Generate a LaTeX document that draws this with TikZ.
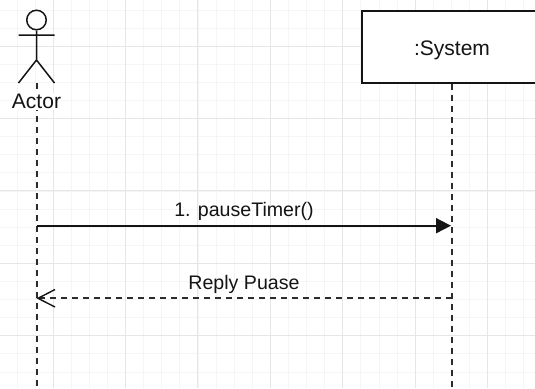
\documentclass[tikz,border=0pt]{standalone}
\usepackage{fontspec}
\setmainfont{Liberation Sans}
\usetikzlibrary{arrows.meta,calc}
\definecolor{gminor}{RGB}{245,245,245}
\definecolor{gmajor}{RGB}{230,230,230}
\definecolor{ink}{RGB}{20,20,20}
\tikzset{
  px/.style={x=1pt,y=-1pt},
  line/.style={draw=ink,line width=1.8pt},
  lifeline/.style={draw=ink!90,line width=2pt,dash pattern=on 6pt off 5pt},
  lbl/.style={font=\fontsize{19.6}{22}\selectfont,text=ink,inner sep=0pt},
  biglbl/.style={font=\fontsize{21}{24}\selectfont,text=ink,inner sep=0pt},
}
\begin{document}
\begin{tikzpicture}[px]
\useasboundingbox (0,0) rectangle (535,388);
\clip (0,0) rectangle (535,388);
\fill[white] (0,0) rectangle (535,388);
% grid
\foreach \i in {-2,...,29} {
  \draw[gminor,line width=1pt] ({17+18.1*\i},0) -- ({17+18.1*\i},388);
}
\foreach \i in {0,...,21} {
  \draw[gminor,line width=1pt] (0,{10+18.1*\i}) -- (535,{10+18.1*\i});
}
\foreach \i in {0,...,6} {
  \draw[gmajor,line width=1pt] ({53+72.4*\i},0) -- ({53+72.4*\i},388);
}
\foreach \i in {0,...,4} {
  \draw[gmajor,line width=1pt] (0,{46+72.4*\i}) -- (535,{46+72.4*\i});
}
% coordinates
\coordinate (actorbase) at (36.5,83);
\coordinate (actorend) at (36.5,388);
\coordinate (systemend) at (452,388);
\coordinate (callstart) at (36.5,225.7);
\coordinate (callend) at (452,225.7);
\coordinate (replystart) at (452,298.3);
\coordinate (replyend) at (36.5,298.3);
% lifelines
\draw[lifeline] (actorbase) -- (actorend);
\node[draw=ink,line width=1.8pt,fill=white,minimum width=180pt,minimum height=72pt,inner sep=0pt] (system) at (452,47) {};
\node[biglbl] (systemlabel) at (452,50) {:System};
\draw[lifeline] (system.south) -- (systemend);
% actor
\node[draw=ink,line width=1.5pt,fill=white,circle,minimum size=19.5pt,inner sep=0pt] (head) at (36.5,20) {};
\coordinate (armL) at (18.5,35);
\coordinate (armR) at (54.5,35);
\coordinate (hip) at (36.5,60);
\coordinate (legL) at (18.5,83);
\coordinate (legR) at (54.5,83);
\draw[draw=ink,line width=1.5pt] (head.south) -- (hip) (armL) -- (armR) (legL) -- (hip) -- (legR);
\node[biglbl,fill=white,inner ysep=1pt] (actor) at (36.5,101.5) {Actor};
% messages
\draw[line,-{Triangle[length=15pt,width=15pt]},shorten >=1pt] (callstart) -- (callend);
\draw[ink!90,line width=1.8pt,dash pattern=on 6pt off 5pt] (replystart) -- ($(replyend)+(3,0)$);
\draw[draw=ink,line width=1.4pt] (55,289.5) -- (38,298.3) -- (55,307);
\node[lbl] (calllabel) at (244,211) {1. pauseTimer()};
\node[lbl] (replylabel) at (244,284) {Reply Puase};
\end{tikzpicture}
\end{document}
